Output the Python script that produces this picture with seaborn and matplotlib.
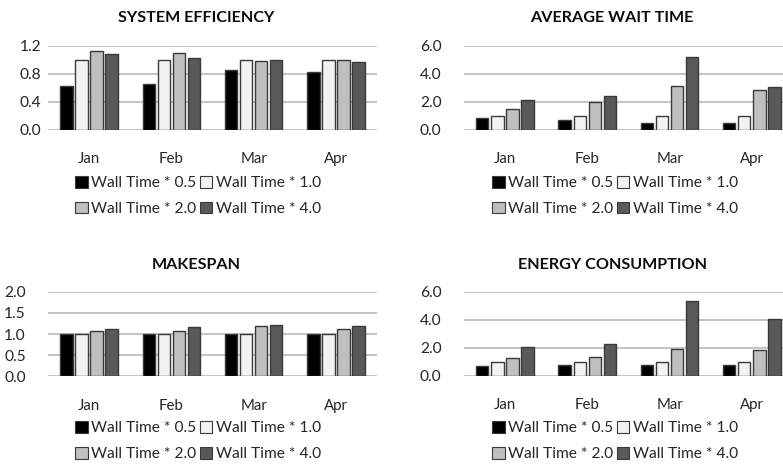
import matplotlib
matplotlib.use("Agg")
import matplotlib.pyplot as plt
import matplotlib.patches as mpatches
import seaborn as sns
import pandas as pd

months = ["Jan", "Feb", "Mar", "Apr"]
series = ["Wall Time * 0.5", "Wall Time * 1.0", "Wall Time * 2.0", "Wall Time * 4.0"]
colors = ["#000000", "#f2f2f2", "#bfbfbf", "#595959"]

efficiency_05 = [0.63, 0.66, 0.85, 0.82]
efficiency_10 = [1.00, 1.00, 1.00, 1.00]
efficiency_20 = [1.13, 1.10, 0.98, 0.99]
efficiency_40 = [1.08, 1.03, 0.99, 0.97]

wait_05 = [0.86, 0.69, 0.45, 0.50]
wait_10 = [1.00, 1.00, 1.00, 1.00]
wait_20 = [1.50, 1.98, 3.12, 2.86]
wait_40 = [2.14, 2.40, 5.17, 3.07]

makespan_05 = [1.00, 1.00, 1.00, 1.00]
makespan_10 = [1.00, 1.00, 1.00, 1.00]
makespan_20 = [1.08, 1.07, 1.18, 1.11]
makespan_40 = [1.12, 1.16, 1.22, 1.20]

energy_05 = [0.72, 0.78, 0.78, 0.78]
energy_10 = [1.00, 1.00, 1.00, 1.00]
energy_20 = [1.30, 1.37, 1.89, 1.82]
energy_40 = [2.06, 2.29, 5.32, 4.07]

efficiency_ticks = [0.0, 0.4, 0.8, 1.2]
wait_ticks = [0.0, 2.0, 4.0, 6.0]
makespan_ticks = [0.0, 0.5, 1.0, 1.5, 2.0]
energy_ticks = [0.0, 2.0, 4.0, 6.0]

sns.set_theme(style="white")
plt.rcParams["font.family"] = ["Lato", "DejaVu Sans"]

W, H = 783, 466
fig = plt.figure(figsize=(W / 100, H / 100), dpi=100)


def long_frame(values):
    rows = []
    for name, vals in zip(series, values):
        for m, v in zip(months, vals):
            rows.append({"month": m, "series": name, "value": v})
    return pd.DataFrame(rows)


def panel(box, title, values, ticks, ypad, title_x, title_y, legend_x, legend_y):
    left, top, right, bottom = box
    ax = fig.add_axes([left / W, 1 - bottom / H, (right - left) / W, (bottom - top) / H])
    df = long_frame(values)
    sns.barplot(data=df, x="month", y="value", hue="series", hue_order=series,
                palette=colors, width=0.73, gap=0.18, edgecolor="#3a3a3a",
                linewidth=1.0, ax=ax, legend=False, errorbar=None, zorder=3)
    ax.set_ylim(ticks[0], ticks[-1])
    ax.set_xlim(-0.5, 3.5)
    ax.set_yticks(ticks)
    ax.set_yticklabels([f"{t:.1f}" for t in ticks])
    ax.grid(axis="y", color="#bfbfbf", linewidth=1.3, zorder=0)
    ax.set_axisbelow(True)
    for s in ax.spines.values():
        s.set_visible(False)
    ax.set_xlabel("")
    ax.set_ylabel("")
    ax.tick_params(axis="y", length=0, pad=ypad, labelsize=11.2, labelcolor="#262626")
    ax.tick_params(axis="x", length=0, pad=16, labelsize=10.8, labelcolor="#262626")
    fig.text(title_x / W, 1 - title_y / H, title, ha="center", va="center",
             fontsize=11.6, fontweight="bold", color="#0d0d0d")
    handles = [mpatches.Patch(facecolor=c, edgecolor="#3a3a3a", linewidth=0.8, label=s)
               for c, s in zip(colors, series)]
    order = [0, 2, 1, 3]
    fig.legend([handles[i] for i in order], [series[i] for i in order],
               loc="center", bbox_to_anchor=(legend_x / W, 1 - legend_y / H),
               ncol=2, frameon=False, fontsize=11.2, handlelength=0.8,
               handleheight=0.8, handletextpad=0.2, columnspacing=0.25,
               labelspacing=0.72, borderpad=0, labelcolor="#262626")
    return ax


panel((48, 45.7, 377, 129.7), "SYSTEM EFFICIENCY",
      [efficiency_05, efficiency_10, efficiency_20, efficiency_40],
      efficiency_ticks, 5, 196, 18, 198, 196)
panel((463.7, 45.7, 793, 129.7), "AVERAGE WAIT TIME",
      [wait_05, wait_10, wait_20, wait_40],
      wait_ticks, 16, 612, 18, 615, 196)
panel((48, 291.7, 377, 376.3), "MAKESPAN",
      [makespan_05, makespan_10, makespan_20, makespan_40],
      makespan_ticks, 16, 196, 265, 198, 441)
panel((463.7, 291.7, 793, 375.7), "ENERGY CONSUMPTION",
      [energy_05, energy_10, energy_20, energy_40],
      energy_ticks, 16, 612, 265, 615, 441)

fig.savefig("out.png", dpi=100, facecolor="white")
